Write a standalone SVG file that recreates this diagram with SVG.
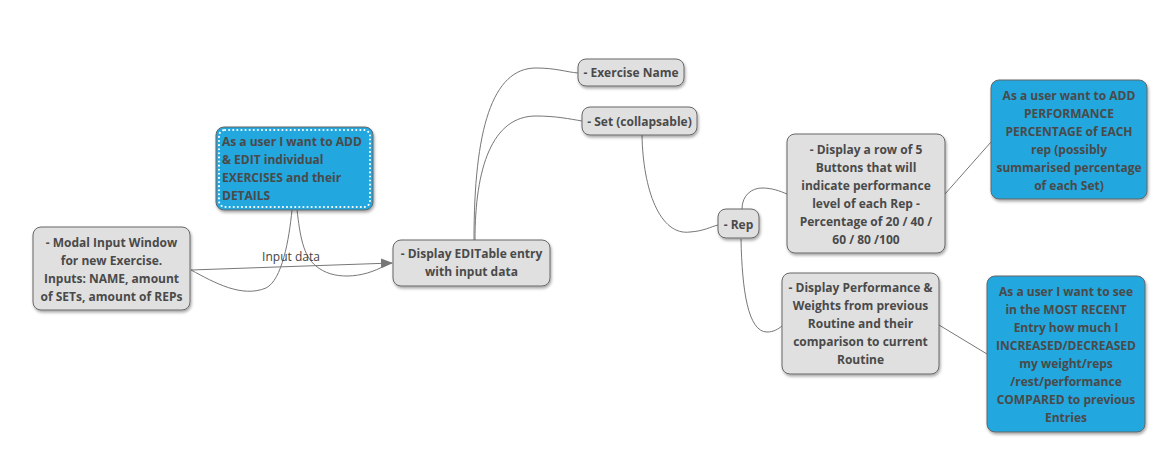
<svg xmlns="http://www.w3.org/2000/svg" width="1174" height="472" viewBox="0 0 1174 472">
<defs>
<filter id="sh" x="-10%" y="-10%" width="130%" height="130%">
<feDropShadow dx="1" dy="2" stdDeviation="1.5" flood-color="#000" flood-opacity="0.35"/>
</filter>
<marker id="arr" markerWidth="12" markerHeight="10" refX="11" refY="5" orient="auto" markerUnits="userSpaceOnUse">
<path d="M0,0 L12,5 L0,10 Z" fill="#777"/>
</marker>
<style>
.n{fill:#e0e0e0;stroke:#666;stroke-width:1;filter:url(#sh)}
.b{fill:#21a7de;stroke:#666;stroke-width:1;filter:url(#sh)}
.t{font-family:"Open Sans","Liberation Sans",sans-serif;font-size:12px;font-weight:bold;fill:#4a4a4a;text-anchor:middle}
.tl{text-anchor:start}
.c{fill:none;stroke:#777;stroke-width:1}
.lbl{font-family:"Open Sans","Liberation Sans",sans-serif;font-size:12px;fill:#444;text-anchor:middle}
</style>
</defs>
<rect width="1174" height="472" fill="#fff"/>
<g id="connectors">
<path class="c" d="M191,270 L392,263" marker-end="url(#arr)"/>
<path class="c" d="M191,270 C215,283 242,298 266,288 C282,280 289,240 292,210"/>
<path class="c" d="M297,210 C300,235 303,256 316,266 C332,280 362,279 386,265"/>
<path class="c" d="M474,240 C474,130 492,68 536,68 C556,68 566,72 578,73"/>
<path class="c" d="M475,240 C475,168 492,116 536,116 C556,116 570,119 582,121"/>
<path class="c" d="M642,135 C643,190 660,236 690,232 C704,231 710,227 718,225"/>
<path class="c" d="M742,209 C742,195 752,188 762,188 C772,188 780,191 787,194"/>
<path class="c" d="M741,239 C742,290 748,332 767,332 C774,332 778,329 782,326"/>
<path class="c" d="M945,194 L991,142"/>
<path class="c" d="M939,325 L987,354"/>
<text class="lbl" x="291" y="261">Input data</text>
</g>
<g id="modal">
<rect class="n" x="33" y="227" width="157" height="83" rx="8"/>
<text class="t" x="111.5" y="247">- Modal Input Window</text>
<text class="t" x="111.5" y="265">for new Exercise.</text>
<text class="t" x="111.5" y="283">Inputs: NAME, amount</text>
<text class="t" x="111.5" y="301">of SETs, amount of REPs</text>
</g>
<g id="story-add-edit">
<rect class="b" x="216" y="127" width="157" height="83" rx="8"/>
<rect x="219" y="130" width="151" height="77" rx="6" fill="none" stroke="#fff" stroke-width="2" stroke-dasharray="0.1 4" stroke-linecap="round"/>
<text class="t tl" x="222" y="146">As a user I want to ADD</text>
<text class="t tl" x="222" y="164">&amp; EDIT individual</text>
<text class="t tl" x="222" y="182">EXERCISES and their</text>
<text class="t tl" x="222" y="200">DETAILS</text>
</g>
<g id="display-entry">
<rect class="n" x="393" y="240" width="157" height="46" rx="8"/>
<text class="t" x="471.5" y="258">- Display EDITable entry</text>
<text class="t" x="471.5" y="276">with input data</text>
</g>
<g id="exercise-name">
<rect class="n" x="578" y="59" width="106" height="27" rx="8"/>
<text class="t" x="631" y="77">- Exercise Name</text>
</g>
<g id="set">
<rect class="n" x="582" y="107" width="115" height="28" rx="8"/>
<text class="t" x="639.5" y="126">- Set (collapsable)</text>
</g>
<g id="rep">
<rect class="n" x="718" y="209" width="41" height="29" rx="8"/>
<text class="t" x="738.5" y="229">- Rep</text>
</g>
<g id="display-row">
<rect class="n" x="787" y="134" width="158" height="119" rx="8"/>
<text class="t" x="866" y="154">- Display a row of 5</text>
<text class="t" x="866" y="172">Buttons that will</text>
<text class="t" x="866" y="190">indicate performance</text>
<text class="t" x="866" y="208">level of each Rep -</text>
<text class="t" x="866" y="226">Percentage of 20 / 40 /</text>
<text class="t" x="866" y="244">60 / 80 /100</text>
</g>
<g id="story-performance">
<rect class="b" x="991" y="80" width="156" height="119" rx="8"/>
<text class="t" x="1069" y="100">As a user want to ADD</text>
<text class="t" x="1069" y="118">PERFORMANCE</text>
<text class="t" x="1069" y="136">PERCENTAGE of EACH</text>
<text class="t" x="1069" y="154">rep (possibly</text>
<text class="t" x="1069" y="172">summarised percentage</text>
<text class="t" x="1069" y="190">of each Set)</text>
</g>
<g id="display-performance">
<rect class="n" x="782" y="273" width="157" height="101" rx="8"/>
<text class="t" x="860.5" y="292">- Display Performance &amp;</text>
<text class="t" x="860.5" y="310">Weights from previous</text>
<text class="t" x="860.5" y="328">Routine and their</text>
<text class="t" x="860.5" y="346">comparison to current</text>
<text class="t" x="860.5" y="364">Routine</text>
</g>
<g id="story-compare">
<rect class="b" x="987" y="276" width="158" height="156" rx="8"/>
<text class="t" x="1066" y="296">As a user I want to see</text>
<text class="t" x="1066" y="314">in the MOST RECENT</text>
<text class="t" x="1066" y="332">Entry how much I</text>
<text class="t" x="1066" y="350">INCREASED/DECREASED</text>
<text class="t" x="1066" y="368">my weight/reps</text>
<text class="t" x="1066" y="386">/rest/performance</text>
<text class="t" x="1066" y="404">COMPARED to previous</text>
<text class="t" x="1066" y="422">Entries</text>
</g>
</svg>
